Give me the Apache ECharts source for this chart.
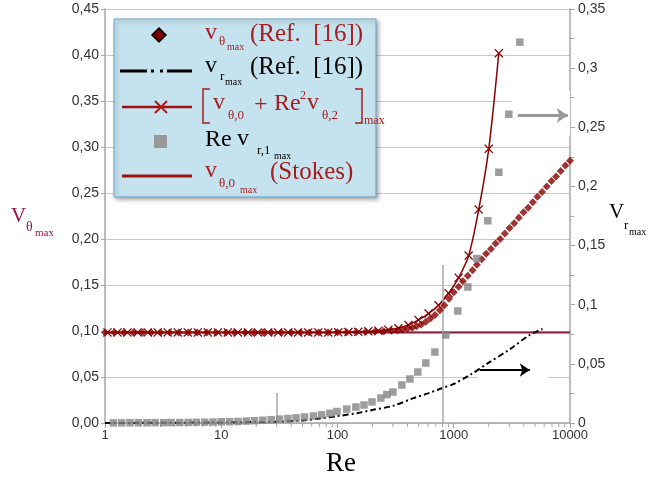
<!DOCTYPE html>
<html>
<head>
<meta charset="utf-8">
<script src="https://cdn.jsdelivr.net/npm/echarts/dist/echarts.min.js"></script>
<style>
  html, body { margin: 0; padding: 0; background: #fff; }
  #chart { width: 657px; height: 482px; }
</style>
</head>
<body>
<div id="chart"></div>
<script>
// Maximum velocities vs. Reynolds number (log scale)

// v_theta max, Ref. [16] (left axis)
const diamondRe = [1, 1.2, 1.45, 1.75, 2.1, 2.5, 3, 3.6, 4.3, 5.2, 6.2, 7.5, 9, 11, 13, 16, 19, 23, 27, 33, 40, 48, 57, 69, 83,
  100, 120, 145, 175, 210, 250, 290, 330, 365, 400, 440, 480, 525, 575, 630, 690, 760, 830, 910,
  1000, 1100, 1200, 1320, 1450, 1580, 1740, 1900, 2090, 2290, 2510, 2750, 3020, 3310, 3630, 3980,
  4370, 4790, 5250, 5750, 6310, 6920, 7590, 8320, 9120, 10000];
const diamondV = [0.0985, 0.0985, 0.0985, 0.0985, 0.0985, 0.0985, 0.0985, 0.0985, 0.0985, 0.0985, 0.0985, 0.0985, 0.0985,
  0.0985, 0.0985, 0.0985, 0.0985, 0.0985, 0.0985, 0.0985, 0.0985, 0.0985, 0.0985, 0.0985, 0.0985,
  0.0986, 0.0987, 0.0989, 0.0991, 0.0994, 0.0998, 0.1002, 0.1008, 0.1015, 0.1024, 0.1036, 0.1052, 0.107, 0.110,
  0.1135, 0.1175, 0.1225, 0.128, 0.135,
  0.142, 0.148, 0.154, 0.160, 0.166, 0.172, 0.178, 0.184, 0.189, 0.195, 0.200, 0.206, 0.212, 0.217, 0.223, 0.229,
  0.234, 0.240, 0.246, 0.251, 0.257, 0.263, 0.268, 0.274, 0.280, 0.285];

// [v_theta,0 + Re^2 v_theta,2]max (left axis)
const crossRe = [1.05, 1.28, 1.56, 1.91, 2.33, 2.84, 3.46, 4.22, 5.15, 6.28, 7.66, 9.35, 11.4, 13.9, 17, 20.7, 25.3,
  30.8, 37.6, 45.9, 56, 68.3, 83.3, 101.6, 124, 151, 184, 225, 274, 334, 408, 497, 607, 740, 903, 1102, 1344,
  1640, 2000, 2440];
const crossV = [0.0985, 0.0985, 0.0985, 0.0985, 0.0985, 0.0985, 0.0985, 0.0985, 0.0985, 0.0985, 0.0985, 0.0985,
  0.0985, 0.0985, 0.0985, 0.0985, 0.0985, 0.0985, 0.0985, 0.0985, 0.0985, 0.0985, 0.0985, 0.0986,
  0.0988, 0.0991, 0.0996, 0.1003, 0.1014, 0.103, 0.1065, 0.112, 0.119, 0.128, 0.141, 0.158, 0.182,
  0.232, 0.298, 0.402];

// Stokes solution v_theta,0 max (left axis)
const stokesRe = [1, 10000];
const stokesV = [0.0985, 0.0985];

// v_r max, Ref. [16] (right axis)
const rRefRe = [1, 3, 10, 20, 30, 50, 70, 100, 150, 200, 300, 450, 600, 800, 1000, 1400, 2000, 3000, 4500, 5800];
const rRefV = [0, 0.0002, 0.0005, 0.0008, 0.0011, 0.0022, 0.0038, 0.0058, 0.0085, 0.011, 0.0145, 0.021, 0.025,
  0.0296, 0.033, 0.041, 0.051, 0.062, 0.0744, 0.0795];

// Re v_r,1 max (right axis)
const squareRe = [1.18, 1.39, 1.64, 1.94, 2.3, 2.7, 3.2, 3.7, 4.4, 5.2, 6.1, 7.2, 8.5, 10, 11.8, 13.9, 16.4, 19.3,
  22.8, 26.9, 31.8, 37.5, 44, 52, 62, 73, 86, 99, 120, 144, 169, 198, 236, 266, 300, 358, 420, 491, 575, 688,
  855, 1084, 1322, 1580, 1963, 2443, 2978, 3700];
const squareV = [0.0001, 0.0001, 0.0002, 0.0002, 0.0002, 0.0003, 0.0003, 0.0004, 0.0004, 0.0005, 0.0006, 0.0007,
  0.0008, 0.0010, 0.0011, 0.0013, 0.0016, 0.0019, 0.0023, 0.0028, 0.0033, 0.0038, 0.0044, 0.0051, 0.0059,
  0.0069, 0.0082, 0.0097, 0.0118, 0.0135, 0.0152, 0.0178, 0.0211, 0.0240, 0.0262, 0.0321, 0.0372, 0.0431,
  0.0507, 0.0600, 0.0744, 0.0947, 0.1150, 0.1390, 0.1710, 0.2120, 0.2610, 0.3220];

// Axis ticks
const xMajorTicks = [1, 10, 100, 1000, 10000];
const xMinorTicks = [2, 3, 4, 5, 6, 7, 8, 9, 20, 30, 40, 50, 60, 70, 80, 90, 200, 300, 400, 500, 600, 700, 800, 900,
  2000, 3000, 4000, 5000, 6000, 7000, 8000, 9000];
const leftTicks = [0, 0.05, 0.10, 0.15, 0.20, 0.25, 0.30, 0.35, 0.40, 0.45];
const rightTicks = [0, 0.05, 0.1, 0.15, 0.2, 0.25, 0.3, 0.35];

const pairs = (xs, ys) => xs.map((x, i) => [x, ys[i]]);

const SERIF = '"Liberation Serif", "Times New Roman", serif';
const SANS = '"Liberation Sans", Arial, sans-serif';
const RED_TXT = '#a41e22';
const AX = '#a6a6a6';

function txt(x, y, s, size, color) {
  return { type: 'text', x: x, y: y, z: 101,
    style: { text: s, font: size + 'px ' + SERIF, fill: color, align: 'left', verticalAlign: 'middle' } };
}

const legendGraphics = [
  { type: 'rect', z: 100, shape: { x: 114, y: 19, width: 262, height: 178 },
    style: { fill: '#c5e3ee', stroke: '#6aa6d2', lineWidth: 1, shadowBlur: 4, shadowOffsetX: 2,
      shadowOffsetY: 2, shadowColor: 'rgba(0,0,0,0.35)' } },
  // row 1
  { type: 'polygon', z: 101, shape: { points: [[159, 28], [166, 35], [159, 42], [152, 35]] },
    style: { fill: '#7a0000', stroke: '#000', lineWidth: 1.5 } },
  txt(205, 33, 'v', 24, RED_TXT), txt(219, 42, 'θ', 13, RED_TXT), txt(227, 47, 'max', 10, RED_TXT),
  txt(250, 34, '(Ref.  [16])', 25, RED_TXT),
  // row 2
  { type: 'line', z: 101, shape: { x1: 120, y1: 71, x2: 192, y2: 71 },
    style: { stroke: '#000', lineWidth: 3, lineDash: [27, 4, 3, 6, 3, 4] } },
  txt(205, 66, 'v', 24, '#000'), txt(220, 77, 'r', 13, '#000'), txt(225, 82, 'max', 10, '#000'),
  txt(250, 67, '(Ref.  [16])', 25, '#000'),
  // row 3
  { type: 'line', z: 101, shape: { x1: 122, y1: 107, x2: 192, y2: 107 }, style: { stroke: '#a01010', lineWidth: 2.5 } },
  { type: 'line', z: 101, shape: { x1: 155, y1: 101, x2: 167, y2: 113 }, style: { stroke: '#b01818', lineWidth: 2 } },
  { type: 'line', z: 101, shape: { x1: 155, y1: 113, x2: 167, y2: 101 }, style: { stroke: '#b01818', lineWidth: 2 } },
  { type: 'polyline', z: 101, shape: { points: [[210, 89], [203, 89], [203, 123], [210, 123]] },
    style: { stroke: RED_TXT, lineWidth: 1.5, fill: null } },
  { type: 'polyline', z: 101, shape: { points: [[355, 89], [362, 89], [362, 123], [355, 123]] },
    style: { stroke: RED_TXT, lineWidth: 1.5, fill: null } },
  txt(213, 103, 'v', 24, RED_TXT), txt(228, 116, 'θ,0', 13, RED_TXT), txt(254, 105, '+', 24, RED_TXT),
  txt(274, 104, 'Re', 24, RED_TXT), txt(300, 96, '2', 12, RED_TXT), txt(307, 103, 'v', 24, RED_TXT),
  txt(322, 116, 'θ,2', 13, RED_TXT), txt(364, 121, 'max', 12, RED_TXT),
  // row 4
  { type: 'rect', z: 101, shape: { x: 154, y: 135, width: 13, height: 13 }, style: { fill: '#999' } },
  txt(205, 140, 'Re', 24, '#000'), txt(237, 139, 'v', 24, '#000'), txt(257, 151, 'r,1', 13, '#000'),
  txt(274, 156, 'max', 10, '#000'),
  // row 5
  { type: 'line', z: 101, shape: { x1: 122, y1: 176, x2: 192, y2: 176 }, style: { stroke: '#a01010', lineWidth: 3 } },
  txt(205, 171, 'v', 24, RED_TXT), txt(219, 184, 'θ,0', 13, RED_TXT), txt(240, 190, 'max', 10, RED_TXT),
  txt(270, 172, '(Stokes)', 25, RED_TXT),
  // axis titles
  txt(11, 216, 'V', 21, '#99163f'), txt(26, 227, 'θ', 14, '#99163f'), txt(35, 233, 'max', 11, '#99163f'),
  txt(609, 212, 'V', 21, '#000'), txt(624, 226, 'r', 13, '#000'), txt(629, 232, 'max', 10, '#000'),
  txt(326, 464, 'Re', 27, '#000')
];

const chart = echarts.init(document.getElementById('chart'));
chart.setOption({
  animation: false,
  backgroundColor: '#fff',
  grid: { left: 105, right: 87, top: 9, bottom: 59 },
  xAxis: {
    type: 'log', logBase: 10, min: xMajorTicks[0], max: xMajorTicks[xMajorTicks.length - 1], splitNumber: 4,
    axisLine: { lineStyle: { color: AX, width: 1.5 } },
    axisTick: { show: true, length: 5, lineStyle: { color: AX } },
    axisLabel: { color: '#333', fontSize: 13, fontFamily: SANS, margin: 6,
      formatter: v => String(Math.round(v)) },
    splitLine: { show: false }
  },
  yAxis: [
    {
      type: 'value', min: leftTicks[0], max: leftTicks[leftTicks.length - 1], interval: 0.05,
      axisLine: { show: true, lineStyle: { color: AX, width: 1.5 } },
      axisTick: { show: true, length: 4, lineStyle: { color: AX } },
      axisLabel: { color: '#333', fontSize: 14, fontFamily: SANS, margin: 6,
        formatter: v => v.toFixed(2).replace('.', ',') },
      splitLine: { show: true, lineStyle: { color: '#c8c8c8', width: 1 } }
    },
    {
      type: 'value', position: 'right', min: rightTicks[0], max: rightTicks[rightTicks.length - 1], interval: 0.05,
      axisLine: { show: true, lineStyle: { color: AX, width: 1.5 } },
      axisTick: { show: true, length: 5, lineStyle: { color: AX } },
      minorTick: { show: true, splitNumber: 2, length: 4, lineStyle: { color: AX } },
      axisLabel: { color: '#333', fontSize: 14, fontFamily: SANS, margin: 8,
        formatter: v => v === 0 ? '0' : String(+v.toFixed(2)).replace('.', ',') },
      splitLine: { show: false }
    }
  ],
  graphic: legendGraphics,
  series: [
    {
      name: 'stokes', type: 'line', yAxisIndex: 0, z: 2, data: pairs(stokesRe, stokesV),
      showSymbol: false, lineStyle: { color: '#8e1f3a', width: 2 }, silent: true
    },
    {
      name: 'rRef', type: 'line', yAxisIndex: 1, z: 3, data: pairs(rRefRe, rRefV), smooth: 0.3,
      showSymbol: false, lineStyle: { color: '#000', width: 2, type: [6, 3, 2, 3] }, silent: true,
      markArea: {
        silent: true, itemStyle: { color: '#fff' },
        data: [[{ coord: [1620, 0.026] }, { coord: [6450, 0.053] }]]
      },
      markLine: {
        silent: true, symbol: ['none', 'arrow'], symbolSize: 10, label: { show: false },
        lineStyle: { color: '#000', width: 2, type: 'solid' },
        data: [[{ coord: [1675, 0.0448] }, { coord: [4510, 0.0448] }]]
      }
    },
    {
      name: 'cross', type: 'line', yAxisIndex: 0, z: 4, data: pairs(crossRe, crossV), smooth: 0.3,
      symbol: 'path://M0,1L1,0L5,4L9,0L10,1L6,5L10,9L9,10L5,6L1,10L0,9L4,5Z', symbolSize: 9,
      itemStyle: { color: '#8b0000' }, lineStyle: { color: '#8b0000', width: 1.5 }, silent: true
    },
    {
      name: 'diamond', type: 'scatter', yAxisIndex: 0, z: 5, data: pairs(diamondRe, diamondV),
      symbol: 'diamond', symbolSize: 8, itemStyle: { color: '#8b0000' }, silent: true
    },
    {
      name: 'square', type: 'scatter', yAxisIndex: 1, z: 6, data: pairs(squareRe, squareV),
      symbol: 'rect', symbolSize: 7.5, itemStyle: { color: '#858585' }, silent: true,
      markArea: {
        silent: true, itemStyle: { color: '#fff' },
        data: [[{ coord: [3170, 0.243] }, { coord: [10000, 0.281] }]]
      },
      markLine: {
        silent: true, symbol: 'none', label: { show: false },
        data: [
          [{ coord: [30, 0], lineStyle: { color: '#a8a8a8', width: 1.5, type: 'solid' } }, { coord: [30, 0.0254] }],
          [{ coord: [806, 0], lineStyle: { color: '#a8a8a8', width: 1.5, type: 'solid' } }, { coord: [806, 0.1336] }],
          [{ coord: [3556, 0.26], symbol: 'none', lineStyle: { color: '#999', width: 3, type: 'solid' } },
           { coord: [9570, 0.26], symbol: 'arrow', symbolSize: 11 }]
        ]
      }
    },
    {
      name: 'minorTicks', type: 'custom', yAxisIndex: 0, z: 1, clip: false, silent: true,
      data: xMinorTicks.map(v => [v, 0]),
      renderItem: (params, api) => {
        const p = api.coord([api.value(0), 0]);
        return { type: 'line', shape: { x1: p[0], y1: p[1], x2: p[0], y2: p[1] + 4 },
          style: { stroke: AX, lineWidth: 1 } };
      }
    }
  ]
});
</script>
</body>
</html>
